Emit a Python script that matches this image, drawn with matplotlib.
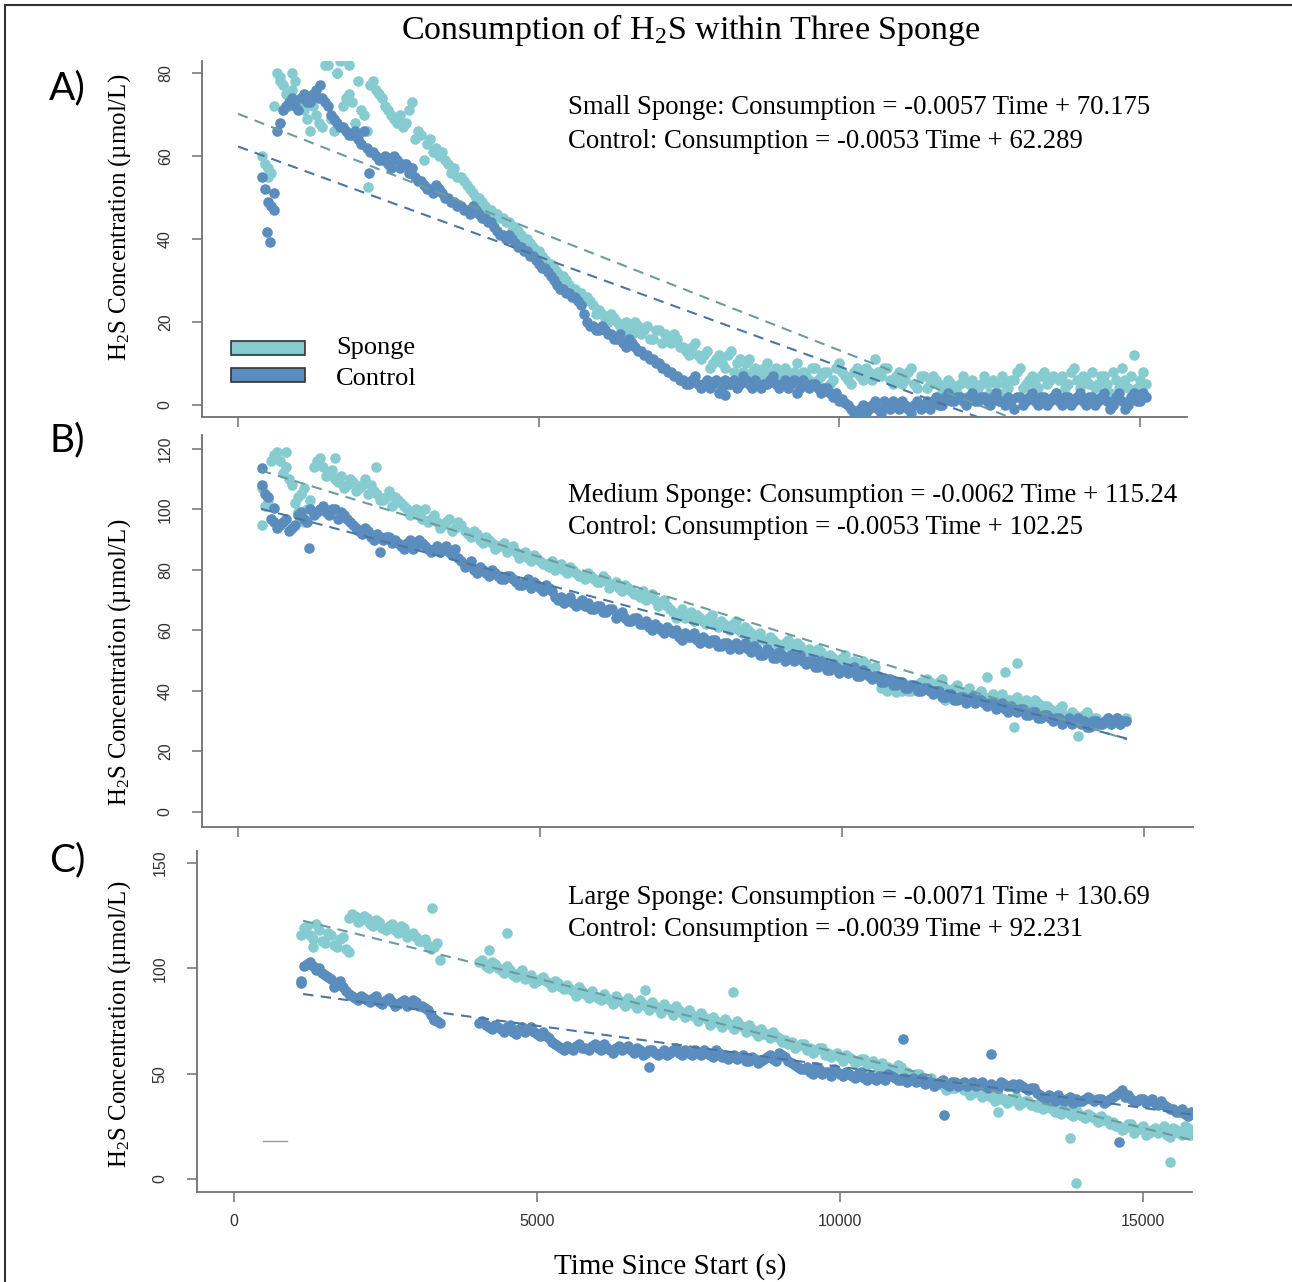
import numpy as np
import matplotlib
matplotlib.use("Agg")
import matplotlib.pyplot as plt
from matplotlib.patches import Rectangle
from matplotlib.lines import Line2D

plt.rcParams['mathtext.fontset'] = 'custom'
plt.rcParams['mathtext.rm'] = 'Liberation Serif'
plt.rcParams['mathtext.it'] = 'Liberation Serif:italic'

SERIF = 'Liberation Serif'
SANS = 'Liberation Sans'

## COLOURS
SPONGE = '#86CBD0'
CONTROL = '#5A8DBE'
SPONGE_FIT = '#6C9C9E'
CONTROL_FIT = '#4B76A3'
AXIS = '#707070'

## READINGS
# each series has two probes read 50 s apart, every 100 s
STEP = 100
OFFSET = 50

# A) small sponge
a_sponge_start = 400
a_sponge = [60, 57, 72, 79, 75, 80, 72, 71, 73, 70,
            67, 82, 66, 83, 74, 73, 65, 70, 77, 76,
            74, 71, 69, 70, 68, 73, 66, 59, 64, 62,
            61, 58, 57, 55, 53, 51, 50, 48, 47, 46,
            45, 44, 43, 41, 40, 38, 37, 35, 34, 32,
            31, 29, 28, 27, 26, 24, 23, 21, 22, 20,
            19, 18, 20, 17, 19, 16, 18, 17, 15, 16,
            14, 12, 15, 11, 13, 10, 12, 9, 13, 10,
            8, 11, 9, 7, 10, 8, 6, 9, 7, 10,
            8, 6, 9, 7, 8, 6, 10, 7, 5, 9,
            6, 8, 11, 7, 9, 5, 8, 6, 9, 4,
            7, 5, 6, 3, 6, 4, 5, 2, 6, 4,
            7, 3, 5, 7, 4, 6, 9, 5, 7, 4,
            8, 6, 3, 7, 5, 9, 4, 6, 8, 5,
            7, 3, 6, 9, 4, 12, 6, 5]
a_sponge_2 = [58, 56, 80, 77, 72, 78, 74, 69, 72, 68,
              82, 69, 80, 72, 75, 68, 71, 66, 78, 75,
              72, 70, 68, 67, 71, 64, 65, 63, 61, 60,
              59, 56, 55, 54, 52, 50, 49, 47, 46, 45,
              44, 42, 42, 40, 39, 37, 36, 34, 33, 31,
              30, 28, 27, 25, 25, 22, 22, 20, 21, 19,
              20, 17, 19, 18, 16, 18, 15, 16, 17, 14,
              13, 14, 12, 12, 9, 11, 10, 12, 8, 11,
              10, 8, 6, 9, 7, 9, 8, 7, 8, 7,
              7, 9, 6, 8, 5, 9, 8, 6, 8, 7,
              9, 6, 8, 9, 6, 7, 5, 8, 5, 7,
              4, 7, 5, 4, 5, 3, 7, 5, 3, 5,
              5, 6, 3, 5, 6, 8, 4, 6, 5, 7,
              5, 7, 6, 4, 8, 6, 7, 5, 4, 7,
              5, 8, 4, 6, 7, 4, 8]
a_control_start = 400
a_control = [55, 49, 47, 68, 72, 74, 71, 75, 73, 76,
             74, 72, 69, 67, 66, 65, 64, 66, 61, 60,
             59, 58, 60, 57, 58, 57, 54, 53, 52, 53,
             51, 50, 49, 48, 47, 48, 46, 45, 44, 42,
             41, 41, 39, 38, 37, 36, 34, 33, 31, 29,
             28, 27, 26, 24, 20, 19, 18, 18, 17, 16,
             15, 16, 14, 13, 12, 11, 10, 9, 8, 7,
             6, 5, 7, 4, 6, 5, 3, 6, 5, 4,
             7, 5, 6, 4, 5, 7, 4, 6, 5, 3,
             6, 4, 5, 3, 4, 2, 1, 0.5, -1, -2,
             0, -1, 1, -2, 0, 1, -1, 0, -2, 1,
             0, -1, 2, 0, 3, 1, 2, 0, 3, 1,
             2, 0, 3, 1, 2, -1, 2, 1, 3, 0,
             2, 1, 3, 0, 2, 1, 3, 0, 2, 1,
             3, -1, 2, 1, 0, 3, 1, 2]
a_control_2 = [52, 48, 66, 71, 73, 72, 74, 73, 75, 74,
               73, 70, 68, 67, 65, 66, 63, 62, 61, 59,
               60, 57, 59, 58, 56, 55, 54, 52, 51, 52,
               50, 49, 48, 47, 46, 47, 45, 44, 43, 41,
               40, 40, 38, 37, 36, 35, 33, 32, 30, 28,
               27, 26, 25, 22, 19, 18, 19, 17, 16, 17,
               14, 15, 13, 12, 11, 10, 9, 8, 7, 6,
               5, 6, 5, 5, 4, 6, 4, 5, 6, 5,
               6, 4, 5, 5, 6, 5, 5, 4, 6, 4,
               5, 5, 4, 4, 3, 3, 1.5, 0, -2, -1,
               -2, 0, -1, 1, -1, 0, 1, -1, 0, -1,
               1, 1, 0, 2, 1, 2, 1, 2, 1, 2,
               1, 2, 1, 0, 1, 2, 0, 2, 1, 2,
               0, 2, 1, 2, 0, 2, 1, 2, 0, 2,
               1, 0, 3, -1, 2, 1, 3]
a_sponge_odd_t = [500, 700, 900, 1200, 1650, 1850, 2000, 2160]
a_sponge_odd_v = [55, 78, 76, 66, 80, 82, 78, 52.5]
a_control_odd_t = [480, 530, 600, 1360, 2170, 8100]
a_control_odd_v = [41.7, 39.3, 51, 77, 55.8, 2.4]
a_fit_sponge = (-0.0057, 70.175)
a_fit_control = (-0.0053, 62.289)
a_fit_range = [0, 15100]

# B) medium sponge
b_sponge_start = 400
b_sponge = [107, 103, 118, 116, 114, 108, 104, 107, 103, 116,
            114, 112, 110, 111, 108, 109, 107, 110, 108, 105,
            103, 106, 104, 102, 100, 99, 98, 100, 97, 96,
            95, 97, 94, 95, 92, 93, 90, 91, 89, 88,
            89, 87, 86, 85, 84, 85, 83, 82, 83, 81,
            80, 81, 79, 78, 79, 77, 76, 77, 75, 74,
            75, 73, 72, 73, 71, 70, 69, 68, 66, 65,
            64, 66, 65, 63, 64, 62, 63, 61, 62, 60,
            61, 59, 58, 57, 58, 56, 55, 57, 54, 55,
            53, 52, 54, 51, 52, 50, 51, 49, 50, 48,
            49, 47, 45, 42, 41, 43, 40, 42, 41, 43,
            44, 42, 43, 41, 40, 42, 39, 41, 38, 40,
            37, 39, 38, 36, 37, 38, 36, 35, 37, 34,
            35, 33, 34, 32, 33, 31, 32, 30, 31, 29,
            31, 30, 29, 31]
b_sponge_2 = [101, 116, 119, 112, 110, 102, 105, 100, 114, 117,
              111, 113, 109, 107, 110, 106, 108, 105, 106, 103,
              104, 101, 103, 101, 98, 100, 97, 96, 98, 94,
              96, 93, 96, 93, 91, 92, 89, 90, 87, 88,
              86, 88, 84, 86, 83, 84, 82, 81, 80, 82,
              79, 80, 78, 77, 78, 76, 78, 74, 76, 73,
              74, 72, 71, 70, 72, 68, 70, 67, 64, 67,
              65, 63, 64, 62, 65, 61, 62, 60, 63, 59,
              60, 57, 59, 56, 57, 55, 56, 54, 56, 53,
              54, 51, 53, 50, 51, 49, 52, 48, 49, 50,
              46, 48, 41, 40, 42, 41, 41, 40, 42, 42,
              43, 41, 44, 40, 41, 39, 40, 37, 39, 38,
              38, 36, 39, 37, 35, 36, 37, 34, 36, 35,
              34, 32, 35, 31, 32, 30, 33, 31, 30, 30,
              29, 31, 30]
b_control_start = 400
b_control = [108, 104, 96, 95, 97, 94, 98, 97, 100, 99,
             101, 98, 100, 99, 97, 95, 93, 94, 91, 92,
             90, 91, 90, 88, 89, 87, 90, 88, 86, 88,
             87, 86, 87, 83, 82, 80, 81, 79, 80, 78,
             77, 78, 76, 75, 77, 76, 74, 75, 73, 70,
             69, 71, 68, 70, 69, 67, 68, 66, 67, 65,
             64, 63, 64, 62, 61, 62, 60, 61, 59, 58,
             59, 58, 57, 58, 56, 57, 55, 56, 55, 54,
             56, 53, 54, 52, 53, 51, 52, 51, 50, 52,
             49, 50, 48, 49, 47, 48, 47, 46, 48, 45,
             46, 44, 45, 43, 44, 42, 43, 41, 42, 40,
             41, 39, 40, 38, 39, 37, 38, 37, 36, 37,
             35, 36, 35, 34, 35, 33, 34, 32, 33, 31,
             32, 30, 31, 30, 29, 31, 30, 28, 30, 29,
             31, 30, 29, 30]
b_control_2 = [105, 97, 94, 96, 93, 95, 99, 96, 98, 100,
               99, 100, 97, 98, 96, 94, 92, 93, 90, 91,
               91, 89, 89, 87, 90, 88, 89, 87, 87, 86,
               88, 85, 84, 81, 83, 79, 80, 78, 79, 77,
               78, 77, 75, 76, 74, 75, 73, 74, 71, 71,
               70, 69, 69, 68, 67, 68, 66, 67, 64, 66,
               63, 64, 62, 63, 60, 61, 59, 60, 60, 57,
               58, 59, 56, 57, 57, 55, 56, 54, 56, 55,
               54, 55, 52, 54, 51, 53, 50, 52, 51, 50,
               50, 48, 50, 47, 49, 46, 47, 47, 45, 47,
               45, 45, 43, 44, 42, 43, 41, 42, 40, 41,
               40, 40, 38, 39, 37, 38, 36, 38, 37, 36,
               36, 34, 36, 33, 34, 34, 32, 33, 31, 32,
               31, 31, 29, 31, 30, 29, 28, 30, 29, 30,
               29, 31, 30]
b_sponge_odd_t = [400, 800, 1000, 1100, 1600, 2290, 10900, 11100, 11700,
                  12400, 12700, 12850, 12900, 13900]
b_sponge_odd_v = [95, 119, 99, 96, 117, 114, 39.8, 40, 37,
                  44.5, 46.4, 28.2, 49.1, 25]
b_control_odd_t = [400, 600, 1180, 2350]
b_control_odd_v = [113.7, 100.5, 87.3, 86]
b_fit_sponge = (-0.0062, 115.24)
b_fit_control = (-0.0053, 102.25)
b_fit_range = [380, 14720]

# C) large sponge (no readings between 3500 s and 4000 s)
nan = np.nan
c_sponge_start = 1100
c_sponge = [116, 120, 114, 118, 112, 116, 110, 115, 124, 125,
            123, 124, 120, 122, 118, 121, 117, 119, 116, 115,
            113, 111, 110, 104, nan, nan, nan, nan, nan, nan,
            104, 100, 102, 99, 101, 97, 98, 95, 97, 94,
            96, 93, 94, 91, 92, 89, 91, 88, 89, 86,
            88, 85, 87, 84, 86, 83, 85, 82, 84, 81,
            83, 80, 82, 79, 80, 77, 79, 76, 77, 74,
            76, 73, 75, 72, 73, 70, 71, 69, 70, 67,
            66, 65, 63, 64, 62, 61, 62, 60, 59, 58,
            59, 57, 56, 57, 55, 54, 55, 53, 52, 53,
            51, 49, 50, 47, 48, 45, 46, 44, 43, 44,
            42, 41, 42, 40, 39, 40, 38, 37, 39, 36,
            37, 35, 36, 34, 33, 34, 32, 31, 33, 30,
            31, 29, 30, 28, 27, 25, 24, 26, 23, 25,
            22, 24, 23, 21, 24, 22, 25, 21]
c_sponge_2 = [119, 116, 121, 113, 117, 111, 114, 109, 126, 122,
              125, 121, 123, 119, 120, 118, 120, 115, 117, 113,
              114, 109, 112, nan, nan, nan, nan, nan, nan, 103,
              101, 103, 100, 98, 99, 96, 99, 96, 93, 95,
              94, 91, 93, 90, 90, 87, 89, 86, 87, 85,
              86, 83, 85, 82, 84, 81, 83, 80, 82, 79,
              81, 78, 80, 77, 78, 75, 77, 73, 75, 72,
              74, 71, 73, 70, 71, 68, 69, 67, 68, 65,
              64, 62, 64, 61, 60, 62, 59, 58, 60, 56,
              58, 55, 57, 54, 56, 52, 53, 51, 54, 50,
              49, 50, 46, 47, 44, 45, 42, 43, 45, 42,
              40, 43, 39, 41, 37, 38, 36, 38, 35, 37,
              35, 34, 33, 35, 32, 31, 33, 30, 31, 29,
              30, 27, 28, 26, 25, 23, 26, 22, 24, 21,
              23, 22, 25, 20, 23, 21, 24]
c_control_start = 1100
c_control = [94, 102, 101, 100, 97, 95, 93, 91, 88, 86,
             87, 85, 86, 84, 85, 84, 83, 85, 83, 84,
             82, 80, 76, 74, nan, nan, nan, nan, nan, nan,
             75, 72, 73, 71, 72, 70, 71, 70, 72, 69,
             70, 67, 64, 62, 63, 61, 64, 62, 63, 62,
             64, 61, 62, 61, 63, 60, 61, 60, 61, 59,
             61, 60, 62, 59, 60, 61, 59, 60, 58, 60,
             59, 58, 57, 59, 56, 57, 56, 58, 57, 60,
             58, 55, 53, 52, 51, 53, 50, 51, 52, 50,
             51, 49, 50, 48, 49, 47, 48, 50, 48, 47,
             46, 48, 47, 45, 46, 45, 47, 44, 46, 45,
             44, 46, 45, 44, 45, 43, 45, 44, 43, 44,
             42, 43, 40, 38, 39, 40, 37, 39, 38, 37,
             39, 37, 38, 37, 39, 41, 39, 38, 37, 38,
             37, 36, 37, 34, 33, 32, 31, 32]
c_control_2 = [101, 103, 99, 98, 96, 91, 94, 89, 87, 85,
               86, 84, 87, 83, 86, 82, 84, 82, 85, 82,
               81, 78, 75, nan, nan, nan, nan, nan, nan, 74,
               73, 71, 72, 70, 73, 69, 72, 71, 70, 68,
               68, 65, 63, 61, 62, 63, 62, 61, 64, 61,
               62, 60, 63, 62, 61, 62, 59, 61, 60, 60,
               59, 61, 60, 61, 59, 60, 61, 59, 61, 58,
               57, 59, 58, 56, 58, 55, 57, 59, 56, 59,
               56, 54, 52, 53, 50, 52, 51, 49, 51, 49,
               50, 48, 51, 47, 48, 49, 47, 49, 47, 48,
               47, 46, 48, 46, 44, 46, 45, 46, 44, 46,
               45, 44, 46, 43, 44, 46, 44, 45, 45, 43,
               43, 41, 39, 40, 37, 38, 38, 36, 37, 38,
               38, 38, 36, 38, 40, 42, 40, 37, 38, 36,
               38, 35, 35, 33, 32, 33, 30, 31]
c_sponge_odd_t = [1300, 1900, 3270, 4200, 4500, 6780, 8230, 12600, 13790, 13890, 15450]
c_sponge_odd_v = [110, 107.7, 128.6, 108.7, 116.8, 89.5, 88.7, 32, 19.5, -2, 8]
c_control_odd_t = [1100, 3300, 6850, 11040, 11720, 12490, 14600]
c_control_odd_v = [93, 75.5, 53.3, 66.4, 30.4, 59.3, 17.6]
c_fit_sponge = (-0.0071, 130.69)
c_fit_control = (-0.0039, 92.231)
c_fit_range = [1140, 15800]
c_stub_t = [480, 880]
c_stub_v = [18, 18]

## FIGURE
W, H = 1292, 1282
fig = plt.figure(figsize=(W / 100, H / 100), dpi=100)


def px_box(left, top, right, bottom):
    return [left / W, 1 - bottom / H, (right - left) / W, (bottom - top) / H]


def fx(x):
    return x / W


def fy(y):
    return 1 - y / H


def series(start, first, second):
    t = np.concatenate([start + STEP * np.arange(len(first)),
                        start + OFFSET + STEP * np.arange(len(second))])
    v = np.concatenate([np.asarray(first, float), np.asarray(second, float)])
    return t, v


def panel(rect, xlim, ylim, yticks, sp, ct, sp_odd, ct_odd,
          fit_sp, fit_ct, fit_range, show_x):
    ax = fig.add_axes(rect)

    ## POINTS
    ax.scatter(sp[0], sp[1], s=58, color=SPONGE, linewidths=0, zorder=2)
    ax.scatter(sp_odd[0], sp_odd[1], s=58, color=SPONGE, linewidths=0, zorder=2)
    ax.scatter(ct[0], ct[1], s=58, color=CONTROL, linewidths=0, zorder=3)
    ax.scatter(ct_odd[0], ct_odd[1], s=58, color=CONTROL, linewidths=0, zorder=3)

    ## REGRESSION LINES
    ft = np.array(fit_range, dtype=float)
    ax.plot(ft, fit_sp[0] * ft + fit_sp[1], color=SPONGE_FIT, lw=1.5,
            ls=(0, (5, 3.5)), zorder=4)
    ax.plot(ft, fit_ct[0] * ft + fit_ct[1], color=CONTROL_FIT, lw=1.5,
            ls=(0, (5, 3.5)), zorder=4)

    ## AXES
    ax.set_xlim(*xlim)
    ax.set_ylim(*ylim)
    for s in ['top', 'right']:
        ax.spines[s].set_visible(False)
    for s in ['left', 'bottom']:
        ax.spines[s].set_color(AXIS)
        ax.spines[s].set_linewidth(1.3)
    ax.set_xticks([0, 5000, 10000, 15000])
    ax.set_yticks(yticks)
    ax.set_yticklabels([str(v) for v in yticks], rotation=90, va='center',
                       family=SANS, fontsize=11.5, color='#333333')
    ax.tick_params(axis='both', direction='out', length=7, width=1.1, color=AXIS)
    ax.tick_params(axis='y', pad=14)
    if show_x:
        ax.set_xticklabels(['0', '5000', '10000', '15000'], family=SANS,
                           fontsize=11.5, color='#333333')
        ax.tick_params(axis='x', pad=9)
    else:
        ax.tick_params(axis='x', labelbottom=False)
    return ax


ax_a = panel(px_box(202, 61, 1187, 417), (-599, 15782), (-2.9, 82.9), [0, 20, 40, 60, 80],
             series(a_sponge_start, a_sponge, a_sponge_2),
             series(a_control_start, a_control, a_control_2),
             (a_sponge_odd_t, a_sponge_odd_v), (a_control_odd_t, a_control_odd_v),
             a_fit_sponge, a_fit_control, a_fit_range, False)
ax_b = panel(px_box(202, 435, 1193, 827), (-596, 15811), (-4.96, 124.6),
             [0, 20, 40, 60, 80, 100, 120],
             series(b_sponge_start, b_sponge, b_sponge_2),
             series(b_control_start, b_control, b_control_2),
             (b_sponge_odd_t, b_sponge_odd_v), (b_control_odd_t, b_control_odd_v),
             b_fit_sponge, b_fit_control, b_fit_range, False)
ax_c = panel(px_box(197, 851, 1192, 1192), (-611, 15809), (-6.2, 155.7), [0, 50, 100, 150],
             series(c_sponge_start, c_sponge, c_sponge_2),
             series(c_control_start, c_control, c_control_2),
             (c_sponge_odd_t, c_sponge_odd_v), (c_control_odd_t, c_control_odd_v),
             c_fit_sponge, c_fit_control, c_fit_range, True)
ax_c.plot(c_stub_t, c_stub_v, color='#9a9a9a', lw=1.0, zorder=1)

## TEXT
fig.text(fx(691), fy(30), r'Consumption of H$_2$S within Three Sponge', family=SERIF,
         fontsize=24.5, ha='center', va='center')
fig.text(fx(670), fy(1267), 'Time Since Start (s)', family=SERIF, fontsize=21,
         ha='center', va='center')

ylab = r'H$_2$S Concentration (µmol/L)'
for yc in [217, 662, 1024]:
    fig.text(fx(120), fy(yc), ylab, family=SERIF, fontsize=17.9, rotation=90,
             ha='center', va='center')

for letter, yc in [('A)', 88), ('B)', 440), ('C)', 860)]:
    fig.text(fx(67), fy(yc), letter, family='Lato', fontsize=28,
             ha='center', va='center')


def eq_line(name, fit):
    return f'{name}: Consumption = {fit[0]} Time + {fit[1]}'


eqs = [(eq_line('Small Sponge', a_fit_sponge), 108), (eq_line('Control', a_fit_control), 141),
       (eq_line('Medium Sponge', b_fit_sponge), 495), (eq_line('Control', b_fit_control), 528),
       (eq_line('Large Sponge', c_fit_sponge), 897), (eq_line('Control', c_fit_control), 930)]
for txt, yc in eqs:
    fig.text(fx(568), fy(yc), txt, family=SERIF, fontsize=19.3, ha='left', va='center')

## LEGEND (panel A)
for col, label, top, ty in [(SPONGE, 'Sponge', 341, 348), (CONTROL, 'Control', 368, 379)]:
    fig.add_artist(Rectangle((fx(231), fy(top + 14)), (305 - 231) / W, 14 / H,
                             transform=fig.transFigure, facecolor=col,
                             edgecolor='#333333', lw=1.2))
    fig.text(fx(336), fy(ty), label, family=SERIF, fontsize=19,
             ha='left', va='center')

## FRAME
fig.add_artist(Line2D([fx(5), fx(5)], [fy(5), 0], transform=fig.transFigure,
                      color='#333333', lw=1.5))
fig.add_artist(Line2D([fx(5), 1], [fy(5), fy(5)], transform=fig.transFigure,
                      color='#333333', lw=1.5))

fig.savefig('out.png', dpi=100)
